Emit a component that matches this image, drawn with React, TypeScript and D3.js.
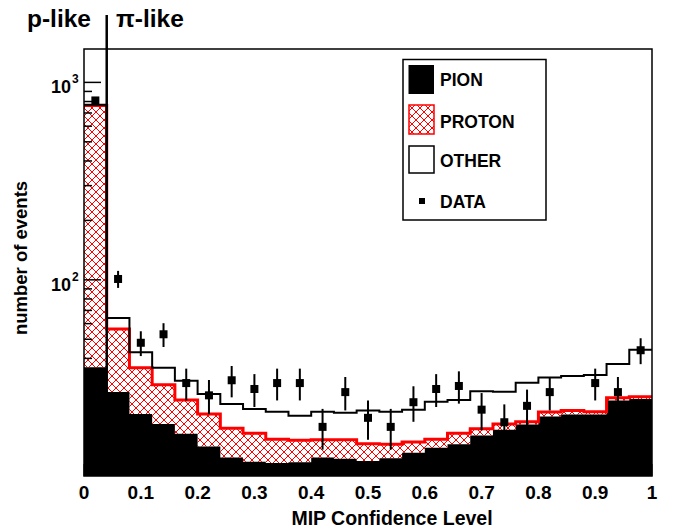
import React from 'react';
import * as d3 from 'd3';

// ---- data ----
const binLow = [0, 0.04, 0.08, 0.12, 0.16, 0.2, 0.24, 0.28, 0.32, 0.36, 0.4, 0.44, 0.48, 0.52, 0.56, 0.6, 0.64, 0.68, 0.72, 0.76, 0.8, 0.84, 0.88, 0.92, 0.96];
const binWidth = 0.04;
const pion = [36.1, 27.0, 20.9, 18.6, 16.6, 14.3, 12.6, 12.0, 11.8, 11.9, 12.6, 12.4, 12.1, 12.5, 13.3, 14.1, 14.7, 16.3, 17.4, 18.5, 20.3, 20.8, 20.8, 24.5, 24.9];
const proton = [728, 29.3, 15.0, 10.8, 8.0, 6.6, 5.1, 4.7, 3.8, 3.5, 2.9, 3.1, 2.7, 2.2, 1.8, 1.5, 2.0, 1.3, 1.2, 0.6, 1.1, 1.0, 0.7, 0.8, 0.7];
const other = [6, 7.7, 7.1, 6.5, 6.2, 5.5, 5.8, 5.5, 5.9, 5.1, 6.0, 5.7, 7.0, 6.8, 6.9, 8.5, 7.9, 9.7, 8.5, 11.0, 10.6, 10.8, 11.5, 12.2, 18.6];
const dataCounts: (number | null)[] = [810, 101, 48, 53, 30, 26, 31, 28, 30, 30, 18, 27, 20, 18, 24, 28, 29, 22, 19, 23, 27, null, 30, 27, 44];
const dataErr: (number | null)[] = [28.5, 10.0, 6.9, 7.3, 5.5, 5.1, 5.6, 5.3, 5.5, 5.5, 4.2, 5.2, 4.5, 4.2, 4.9, 5.3, 5.4, 4.7, 4.4, 4.8, 5.2, null, 5.5, 5.2, 6.6];

const xTickValues = [0, 0.1, 0.2, 0.3, 0.4, 0.5, 0.6, 0.7, 0.8, 0.9, 1];
const xTickLabels = ['0', '0.1', '0.2', '0.3', '0.4', '0.5', '0.6', '0.7', '0.8', '0.9', '1'];
const yMajorTicks = [100, 1000];
const yMajorExp = ['2', '3'];
const yMinorTicks = [20, 30, 40, 50, 60, 70, 80, 90, 200, 300, 400, 500, 600, 700, 800, 900];
const legendLabels = ['PION', 'PROTON', 'OTHER', 'DATA'];
const divider = 0.04;

const FONT = '"Liberation Sans", Arial, Helvetica, sans-serif';

export default function App() {
  const W = 675, H = 529;
  const L = 84, R = 652, T = 49, B = 476;
  const x = d3.scaleLinear().domain([0, 1]).range([L, R]);
  const y = d3.scaleLog().domain([10.15, 1476]).range([B, T]);

  const n = binLow.length;
  const pionTop = pion;
  const protonTop = pion.map((v, i) => v + proton[i]);
  const otherTop = protonTop.map((v, i) => v + other[i]);

  const pts = (vals: number[]) => {
    const p = binLow.map((b, i) => [x(b), y(vals[i])] as [number, number]);
    p.push([x(binLow[n - 1] + binWidth), y(vals[n - 1])]);
    return p;
  };
  const band = (lo: number[] | null, hi: number[]) => {
    const p = binLow.map((b, i) => [x(b), lo ? y(lo[i]) : B, y(hi[i])]);
    p.push([x(binLow[n - 1] + binWidth), lo ? y(lo[n - 1]) : B, y(hi[n - 1])]);
    return d3.area<number[]>().curve(d3.curveStepAfter).x(d => d[0]).y0(d => d[1]).y1(d => d[2])(p) || '';
  };
  const line = d3.line<[number, number]>().curve(d3.curveStepAfter);

  return (
    <svg width={W} height={H} style={{ position: 'absolute', left: 0, top: 0, background: '#fff' }} fontFamily={FONT} fontWeight="bold">
      <defs>
        <pattern id="hatch" patternUnits="userSpaceOnUse" width="8" height="8">
          <rect width="8" height="8" fill="#fff" />
          <path d="M0,0 L8,8 M8,0 L0,8" stroke="#ff0000" strokeWidth="1" />
        </pattern>
        <clipPath id="frame"><rect x={L} y={T} width={R - L} height={B - T} /></clipPath>
      </defs>
      <rect width={W} height={H} fill="#fff" />
      <g clipPath="url(#frame)">
        <path d={band(protonTop, otherTop)} fill="#fff" />
        <path d={band(pionTop, protonTop)} fill="url(#hatch)" />
        <path d={band(null, pionTop)} fill="#000" />
        <path d={line(pts(protonTop)) || ''} fill="none" stroke="#ff0000" strokeWidth={3} />
        <path d={line(pts(otherTop)) || ''} fill="none" stroke="#000" strokeWidth={2} />
      </g>
      {/* y ticks */}
      {yMajorTicks.map(t => (
        <line key={'M' + t} x1={L} x2={L + 17} y1={y(t)} y2={y(t)} stroke="#000" strokeWidth={1.5} />
      ))}
      {yMinorTicks.map(t => (
        <line key={'m' + t} x1={L} x2={L + 8} y1={y(t)} y2={y(t)} stroke="#000" strokeWidth={1.5} />
      ))}
      {xTickValues.map(t => (
        <line key={'x' + t} x1={x(t)} x2={x(t)} y1={B} y2={B - 12} stroke="#000" strokeWidth={1} />
      ))}
      {/* frame */}
      <rect x={L} y={T} width={R - L} height={B - T} fill="none" stroke="#000" strokeWidth={1.5} />
      {/* divider */}
      <line x1={x(divider)} x2={x(divider)} y1={15} y2={B} stroke="#000" strokeWidth={2.5} />
      {/* data */}
      {dataCounts.map((v, i) => {
        if (v == null) return null;
        const e = dataErr[i] as number;
        const cx = x(binLow[i] + binWidth / 2);
        return (
          <g key={'d' + i}>
            <line x1={cx} x2={cx} y1={y(v + e)} y2={y(v - e)} stroke="#000" strokeWidth={2} />
            <rect x={cx - 4} y={y(v) - 4} width={8} height={8} fill="#000" />
          </g>
        );
      })}
      {/* x tick labels */}
      {xTickValues.map((t, i) => (
        <text key={'xl' + t} x={x(t)} y={499} textAnchor="middle" fontSize={19}>{xTickLabels[i]}</text>
      ))}
      {/* y tick labels */}
      {yMajorTicks.map((t, i) => (
        <g key={'yl' + t}>
          <text x={71} y={y(t) + 11} textAnchor="end" fontSize={18}>10</text>
          <text x={72} y={y(t) + 1} textAnchor="start" fontSize={12}>{yMajorExp[i]}</text>
        </g>
      ))}
      {/* axis titles */}
      <text x={392} y={525} textAnchor="middle" fontSize={19.5}>MIP Confidence Level</text>
      <text transform={`translate(27,258) rotate(-90)`} textAnchor="middle" fontSize={18.5}>number of events</text>
      {/* region labels */}
      <text x={91} y={27} textAnchor="end" fontSize={24.5}>p-like</text>
      <text x={116} y={27} textAnchor="start" fontSize={24.5}>π-like</text>
      {/* legend */}
      <rect x={403} y={59.5} width={143} height={160.5} fill="#fff" stroke="#000" strokeWidth={1.5} />
      <rect x={408.5} y={65} width={25.5} height={29} fill="#000" />
      <rect x={409} y={105} width={25} height={29} fill="url(#hatch)" stroke="#ff0000" strokeWidth={1.5} />
      <rect x={409} y={146} width={25} height={27} fill="#fff" stroke="#000" strokeWidth={1.5} />
      <rect x={419} y={198} width={6} height={6} fill="#000" />
      {legendLabels.map((lab, i) => (
        <text key={lab} x={440} y={[86, 128, 167, 208][i]} fontSize={17.5}>{lab}</text>
      ))}
    </svg>
  );
}
